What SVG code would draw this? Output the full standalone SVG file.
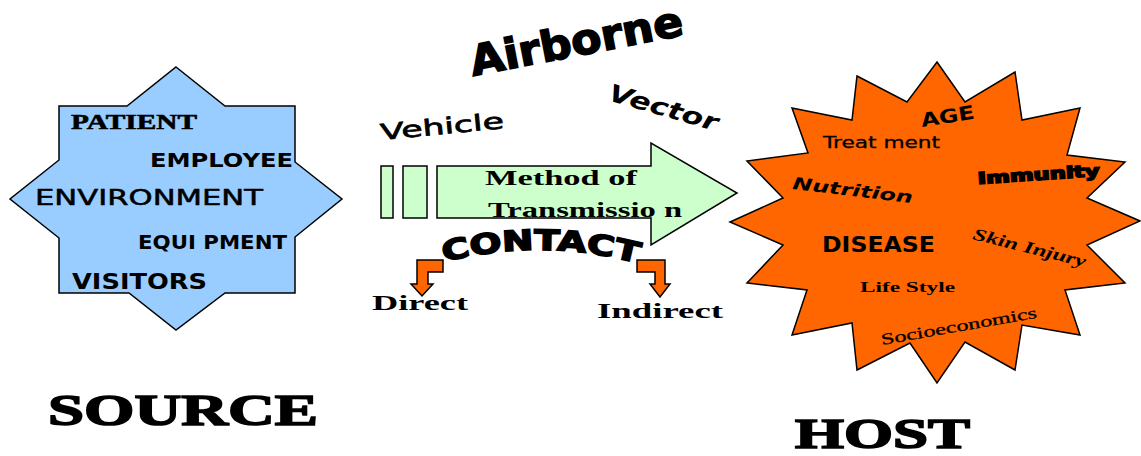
<svg xmlns="http://www.w3.org/2000/svg" width="1141" height="456" viewBox="0 0 1141 456">
<style>
.shape{stroke:#000;stroke-width:1.5;stroke-linejoin:miter}
.blue{fill:#99CCFF}
.green{fill:#CCFFCC}
.orange{fill:#FF6600}
.sans{font-family:"DejaVu Sans","Liberation Sans",sans-serif;fill:#000}
.serif{font-family:"Liberation Serif","DejaVu Serif",serif;fill:#000}
.heavy{font-weight:bold;stroke:#000;stroke-width:1.6}
.b{font-weight:bold}
</style>
<defs>
<path id="contactPath" d="M 444,262 Q 545,236 648,266"/>
</defs>
<rect width="1141" height="456" fill="#fff"/>

<g id="source">
<polygon class="shape blue" points="176,67 225,106 295,106 295,162 342,199 295,237 295,293 225,293 176,330 129,293 59,293 59,238 10,199 59,160 59,106 127,106"/>
<text class="serif b" x="71" y="129" font-size="22" textLength="126" lengthAdjust="spacingAndGlyphs" stroke="#000" stroke-width="0.6">PATIENT</text>
<text class="sans b" x="150" y="167" font-size="19" textLength="143" lengthAdjust="spacingAndGlyphs">EMPLOYEE</text>
<text class="sans" x="35" y="205" font-size="21" textLength="228" lengthAdjust="spacingAndGlyphs" stroke="#000" stroke-width="0.5">ENVIRONMENT</text>
<text class="sans b" x="138" y="249" font-size="20" textLength="149" lengthAdjust="spacingAndGlyphs">EQUI PMENT</text>
<text class="sans b" x="72" y="289" font-size="22" textLength="135" lengthAdjust="spacingAndGlyphs">VISITORS</text>
<text class="serif heavy" x="48" y="425" font-size="45" textLength="270" lengthAdjust="spacingAndGlyphs">SOURCE</text>
</g>

<g id="transmission">
<rect class="shape green" x="381" y="166" width="12" height="52"/>
<rect class="shape green" x="403" y="166" width="24" height="52"/>
<polygon class="shape green" points="437,166 651,166 651,143 737,193 651,245 651,218 437,218"/>
<text class="serif b" x="485" y="185" font-size="22" textLength="152" lengthAdjust="spacingAndGlyphs">Method of</text>
<text class="serif b" x="488" y="217" font-size="22" textLength="194" lengthAdjust="spacingAndGlyphs">Transmissio n</text>
</g>

<g id="airborne">
<text class="sans heavy" transform="translate(473,76) rotate(-11)" font-size="42" textLength="216" lengthAdjust="spacingAndGlyphs">Airborne</text>
</g>
<g id="vehicle">
<text class="sans" transform="translate(381,140) rotate(-5.5)" font-size="22" textLength="124" lengthAdjust="spacingAndGlyphs" stroke="#000" stroke-width="0.7">Vehicle</text>
</g>
<g id="vector">
<text class="sans b" transform="translate(607,100) rotate(16)" font-size="24" font-style="italic" textLength="113" lengthAdjust="spacingAndGlyphs">Vector</text>
</g>
<g id="contact">
<text class="sans heavy" font-size="28"><textPath href="#contactPath" textLength="196" lengthAdjust="spacingAndGlyphs">CONTACT</textPath></text>
</g>

<g id="connectors">
<polygon class="shape orange" points="417,260 443,260 443,272 428,272 428,284 433,284 422,296 411,284 417,284"/>
<polygon class="shape orange" points="637,260 665,260 665,284 670,284 660,297 650,284 655,284 655,272 637,272"/>
</g>

<g id="direct">
<text class="serif b" x="372" y="310" font-size="20" textLength="96" lengthAdjust="spacingAndGlyphs">Direct</text>
</g>
<g id="indirect">
<text class="serif b" x="597" y="318" font-size="21" textLength="126" lengthAdjust="spacingAndGlyphs">Indirect</text>
</g>

<g id="host">
<polygon class="shape orange" points="937,62 965,102 1015,72 1022,120 1080,108 1067,155 1125,162 1087,198 1140,221 1087,245 1125,283 1065,290 1080,335 1022,325 1015,370 965,342 937,383 910,343 857,370 852,323 792,335 807,290 747,283 783,245 730,222 783,198 747,161 808,153 792,108 852,120 857,76 907,102"/>
<text class="sans b" transform="translate(922,127) rotate(-9)" font-size="19" textLength="54" lengthAdjust="spacingAndGlyphs">AGE</text>
<text class="sans" x="823" y="148" font-size="16" textLength="117" lengthAdjust="spacingAndGlyphs" stroke="#000" stroke-width="0.3">Treat ment</text>
<text class="sans b" transform="translate(792,189) rotate(6.7)" font-size="17" font-style="italic" textLength="121" lengthAdjust="spacingAndGlyphs">Nutrition</text>
<text class="sans heavy" transform="translate(978,184) rotate(-3.8)" font-size="16" stroke-width="1" textLength="122" lengthAdjust="spacingAndGlyphs">Immunity</text>
<text class="sans b" x="822" y="252" font-size="21" textLength="113" lengthAdjust="spacingAndGlyphs">DISEASE</text>
<text class="serif b" transform="translate(972,239) rotate(14)" font-size="17" font-style="italic" textLength="116" lengthAdjust="spacingAndGlyphs">Skin Injury</text>
<text class="serif b" x="860" y="292" font-size="15" textLength="95" lengthAdjust="spacingAndGlyphs">Life Style</text>
<text class="serif" transform="translate(882,345) rotate(-10)" font-size="16" textLength="158" lengthAdjust="spacingAndGlyphs" stroke="#000" stroke-width="0.3">Socioeconomics</text>
<text class="serif heavy" x="795" y="448" font-size="42" textLength="175" lengthAdjust="spacingAndGlyphs">HOST</text>
</g>
</svg>
